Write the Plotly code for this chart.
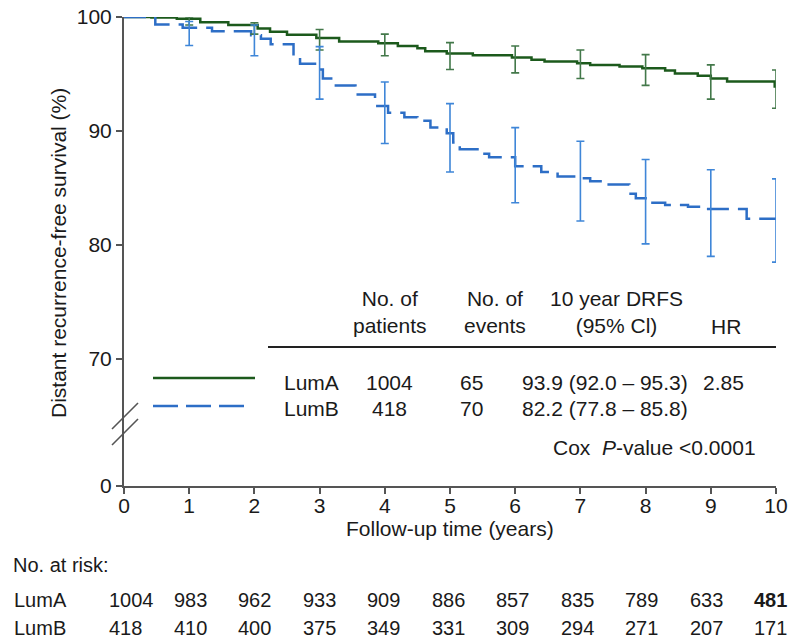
import plotly.graph_objects as go

# ---------------- data ----------------
lumA_time = [0, 0.42, 0.81, 1.17, 1.6, 2.05, 2.24, 2.5, 2.95, 3.3, 3.9, 4.2, 4.5, 4.62,
             4.95, 5.35, 5.95, 6.25, 6.45, 6.95, 7.15, 7.6, 7.95, 8.3, 8.45, 8.8, 9.0,
             9.25, 9.98, 10.0]
lumA_surv = [100, 99.95, 99.85, 99.55, 99.3, 99.0, 98.7, 98.45, 98.15, 97.85, 97.7, 97.45,
             97.25, 97.0, 96.8, 96.65, 96.45, 96.25, 96.1, 95.95, 95.8, 95.65, 95.5, 95.3,
             95.05, 94.85, 94.6, 94.35, 93.9, 93.9]

lumB_time = [0, 0.48, 0.9, 1.35, 1.95, 2.1, 2.25, 2.6, 2.7, 2.95, 3.05, 3.2, 3.55, 3.85,
             4.05, 4.3, 4.5, 4.7, 4.95, 5.05, 5.15, 5.45, 5.6, 6.0, 6.4, 6.65, 6.95, 7.15,
             7.4, 7.75, 7.85, 8.0, 8.3, 8.65, 8.85, 9.55, 10.0]
lumB_surv = [100, 99.35, 99.05, 98.75, 98.4, 98.1, 97.6, 96.5, 95.9, 95.4, 94.6, 94.0,
             93.2, 92.2, 91.6, 91.2, 90.9, 90.3, 89.8, 89.0, 88.4, 88.0, 87.7, 86.9, 86.4,
             86.0, 85.85, 85.6, 85.3, 84.5, 84.1, 83.7, 83.5, 83.35, 83.15, 82.3, 82.2]

ci_years = [1, 2, 3, 4, 5, 6, 7, 8, 9, 10]
lumA_ci_mid = [99.7, 99.0, 98.15, 97.7, 96.8, 96.45, 95.95, 95.5, 94.6, 93.9]
lumA_ci_hi = [100.0, 99.5, 98.9, 98.5, 97.75, 97.45, 97.1, 96.7, 95.8, 95.35]
lumA_ci_lo = [99.3, 98.5, 97.1, 96.6, 95.4, 95.1, 94.6, 94.0, 92.8, 92.0]
lumB_ci_mid = [99.0, 98.4, 95.4, 91.6, 89.0, 86.9, 85.85, 83.7, 83.15, 82.2]
lumB_ci_hi = [99.6, 99.3, 97.4, 94.3, 92.4, 90.3, 89.1, 87.5, 86.6, 85.8]
lumB_ci_lo = [97.5, 96.6, 92.8, 88.9, 86.4, 83.7, 82.1, 80.1, 79.0, 78.5]

risk_years = [0, 1, 2, 3, 4, 5, 6, 7, 8, 9, 10]
risk_lumA = [1004, 983, 962, 933, 909, 886, 857, 835, 789, 633, 481]
risk_lumB = [418, 410, 400, 375, 349, 331, 309, 294, 271, 207, 171]

y_ticks_shown = ["0", "70", "80", "90", "100"]
x_ticks = [0, 1, 2, 3, 4, 5, 6, 7, 8, 9, 10]

# ---------------- style / layout ----------------
W, H = 793, 641
L, R, T, B = 124, 17, 17, 155
PW, PH = W - L - R, H - T - B
Y_BREAK = 58.86  # axis position labelled "0" (broken axis)

GREEN = "#1c5a1c"
GREEN_EB = "#43784a"
BLUE = "#2d6ec6"
BLUE_EB = "#3f86d8"
TXT = "#1a1a1a"
AX = "#555555"
FONT = "Liberation Sans, Arial, sans-serif"
FS = 21
FS_RISK = 20


def px(xp):
    return (xp - L) / PW


def py(yp):
    return (H - B - yp) / PH


fig = go.Figure()

fig.add_trace(go.Scatter(x=lumA_time, y=lumA_surv, mode="lines", line_shape="hv",
                         line=dict(color=GREEN, width=2.5), cliponaxis=False,
                         showlegend=False, hoverinfo="skip"))
fig.add_trace(go.Scatter(x=lumB_time, y=lumB_surv, mode="lines", line_shape="hv",
                         line=dict(color=BLUE, width=2.5, dash="22px,9px"), cliponaxis=False,
                         showlegend=False, hoverinfo="skip"))

for mid, hi, lo, col in [(lumA_ci_mid, lumA_ci_hi, lumA_ci_lo, GREEN_EB),
                         (lumB_ci_mid, lumB_ci_hi, lumB_ci_lo, BLUE_EB)]:
    fig.add_trace(go.Scatter(
        x=ci_years, y=mid, mode="markers", marker=dict(size=1, color="rgba(0,0,0,0)"),
        error_y=dict(type="data", symmetric=False,
                     array=[h - m for h, m in zip(hi, mid)],
                     arrayminus=[m - l for l, m in zip(lo, mid)],
                     color=col, thickness=1.6, width=4),
        cliponaxis=False, showlegend=False, hoverinfo="skip"))

fig.update_layout(
    width=W, height=H, margin=dict(l=L, r=R, t=T, b=B, autoexpand=False),
    paper_bgcolor="white", plot_bgcolor="white",
    font=dict(family=FONT, size=FS, color=TXT),
    showlegend=False,
    xaxis=dict(range=[0, 10], tickvals=x_ticks, showline=True, linecolor=AX, linewidth=2,
               ticks="outside", ticklen=6, tickwidth=2, tickcolor=AX, showgrid=False,
               zeroline=False, tickfont=dict(size=FS, color=TXT), ticklabelstandoff=-6),
    yaxis=dict(range=[Y_BREAK, 100], tickvals=[Y_BREAK, 70, 80, 90, 100],
               ticktext=y_ticks_shown, showline=True, linecolor=AX, linewidth=2,
               ticks="outside", ticklen=6, tickwidth=2, tickcolor=AX, showgrid=False,
               zeroline=False, tickfont=dict(size=FS, color=TXT)),
)

shapes = []
# broken-axis marks
for y0, y1 in [(429, 403), (445, 419)]:
    shapes.append(dict(type="line", xref="paper", yref="paper", x0=px(112), x1=px(138),
                       y0=py(y0), y1=py(y1), line=dict(color=AX, width=1.6)))
# table rule
shapes.append(dict(type="line", xref="paper", yref="paper", x0=px(268), x1=px(776),
                   y0=py(347), y1=py(347), line=dict(color="#222222", width=2.2)))
# legend samples
shapes.append(dict(type="line", xref="paper", yref="paper", x0=px(153), x1=px(255),
                   y0=py(378), y1=py(378), line=dict(color=GREEN, width=2.5)))
shapes.append(dict(type="line", xref="paper", yref="paper", x0=px(153), x1=px(247),
                   y0=py(406), y1=py(406), line=dict(color=BLUE, width=2.5, dash="25px,8px")))
fig.update_layout(shapes=shapes)

ann = []


def text(s, xp, yp, xanchor="center", yanchor="middle", size=FS, angle=0, align="center"):
    ann.append(dict(text=s, x=px(xp), y=py(yp), xref="paper", yref="paper",
                    xanchor=xanchor, yanchor=yanchor, showarrow=False, textangle=angle,
                    align=align, font=dict(family=FONT, size=size, color=TXT)))


# axis titles
text("Follow-up time (years)", 450, 528)
text("Distant recurrence-free survival (%)", 58, 253, angle=-90)

# summary table
text("No. of<br>patients", 390, 312)
text("No. of<br>events", 495, 312)
text("10 year DRFS<br>(95% Cl)", 616, 312)
text("HR", 726, 326)
text("LumA", 282, 382, xanchor="left")
text("LumB", 282, 408, xanchor="left")
text("1004", 389, 382)
text("418", 389, 408)
text("65", 471, 382)
text("70", 471, 408)
text("93.9 (92.0 \u2013 95.3)", 520, 382, xanchor="left")
text("82.2 (77.8 \u2013 85.8)", 520, 408, xanchor="left")
text("2.85", 723, 382)
text("Cox  <i>P</i>-value &lt;0.0001", 551, 447, xanchor="left")

# number at risk
text("No. at risk:", 11, 565, xanchor="left", size=FS_RISK)
text("LumA", 12, 600, xanchor="left", size=FS_RISK)
text("LumB", 12, 628, xanchor="left", size=FS_RISK)
for yr, a, b in zip(risk_years, risk_lumA, risk_lumB):
    xl = 107 + 64.5 * yr
    sa = f"<b>{a}</b>" if yr == risk_years[-1] else str(a)
    text(sa, xl, 600, xanchor="left", size=FS_RISK)
    text(str(b), xl, 628, xanchor="left", size=FS_RISK)

fig.update_layout(annotations=ann)

fig.write_html("out.html")
